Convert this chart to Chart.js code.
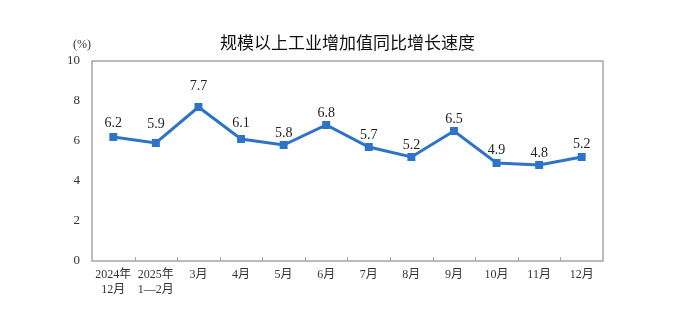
<!DOCTYPE html>
<html>
<head>
<meta charset="utf-8">
<script src="https://cdn.jsdelivr.net/npm/chart.js@4"></script>
<style>
  html, body { margin: 0; padding: 0; background: #fff; }
  #wrap { width: 673px; height: 328px; }
</style>
</head>
<body>
<div id="wrap"><canvas id="chart" width="673" height="328"></canvas></div>
<script>
// data
const labels = [['2024年', '12月'], ['2025年', '1—2月'], '3月', '4月', '5月', '6月', '7月', '8月', '9月', '10月', '11月', '12月'];
const growth = [6.2, 5.9, 7.7, 6.1, 5.8, 6.8, 5.7, 5.2, 6.5, 4.9, 4.8, 5.2];
const yTicks = [0, 2, 4, 6, 8, 10];

const serif = '"Liberation Serif", "Times New Roman", "Noto Sans CJK SC", serif';
const lineColor = '#2e74c6';

// title, unit, frame, inner ticks and value labels
const decor = {
    id: 'decor',
    afterDraw(chart) {
        const { ctx, chartArea: a } = chart;
        const x = chart.scales.x;
        ctx.save();

        // frame
        ctx.strokeStyle = '#a6a6a6';
        ctx.lineWidth = 1.5;
        ctx.strokeRect(a.left, a.top, a.right - a.left, a.bottom - a.top);

        // category boundary ticks pointing up
        ctx.lineWidth = 1;
        const step = (a.right - a.left) / labels.length;
        for (let i = 1; i < labels.length; i++) {
            const px = Math.round(x.getPixelForValue(i) - step / 2) + 0.5;
            ctx.beginPath();
            ctx.moveTo(px, a.bottom);
            ctx.lineTo(px, a.bottom - 4);
            ctx.stroke();
        }

        // title
        ctx.fillStyle = '#111';
        ctx.font = '17px "Noto Sans CJK SC", sans-serif';
        ctx.textAlign = 'center';
        ctx.textBaseline = 'middle';
        ctx.fillText('规模以上工业增加值同比增长速度', (a.left + a.right) / 2, 43);

        // unit
        ctx.font = '12px ' + serif;
        ctx.fillStyle = '#333';
        ctx.fillText('(%)', 82, 45);

        // value labels (lift above each point, as placed in the original)
        const lift = [14, 19, 21, 16, 12, 12, 12, 12, 12, 13, 12, 13];
        ctx.font = '14px ' + serif;
        ctx.fillStyle = '#222';
        const meta = chart.getDatasetMeta(0);
        meta.data.forEach((pt, i) => {
            ctx.fillText(growth[i].toFixed(1), pt.x, pt.y - lift[i]);
        });
        ctx.restore();
    }
};

new Chart(document.getElementById('chart'), {
    type: 'line',
    data: {
        labels: labels,
        datasets: [{
            data: growth,
            borderColor: lineColor,
            backgroundColor: lineColor,
            borderWidth: 3,
            pointStyle: 'rect',
            pointRadius: 3.5,
            pointHoverRadius: 3.5,
            tension: 0
        }]
    },
    options: {
        responsive: false,
        animation: false,
        layout: { padding: { top: 61, right: 70, left: 0, bottom: 0 } },
        plugins: {
            legend: { display: false },
            tooltip: { enabled: false }
        },
        scales: {
            x: {
                offset: true,
                grid: { display: false, drawTicks: false },
                border: { display: false },
                ticks: {
                    color: '#333',
                    font: { family: serif, size: 12 },
                    padding: 7,
                    maxRotation: 0,
                    autoSkip: false
                },
                afterFit(scale) { scale.height = 67; }
            },
            y: {
                min: 0,
                max: 10,
                afterBuildTicks(scale) { scale.ticks = yTicks.map(v => ({ value: v })); },
                grid: { display: false, drawTicks: false },
                border: { display: false },
                ticks: {
                    color: '#333',
                    font: { family: serif, size: 13 },
                    padding: 12
                },
                afterFit(scale) { scale.width = 92; }
            }
        }
    },
    plugins: [decor]
});
</script>
</body>
</html>
